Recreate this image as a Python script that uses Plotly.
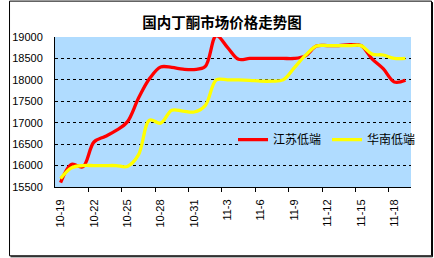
import plotly.graph_objects as go

# ---- data ----
dates = ["10-19", "10-20", "10-21", "10-22", "10-23", "10-24", "10-25", "10-26",
         "10-27", "10-28", "10-29", "10-30", "10-31", "11-1", "11-2", "11-3",
         "11-4", "11-5", "11-6", "11-7", "11-8", "11-9", "11-10", "11-11",
         "11-12", "11-13", "11-14", "11-15", "11-16", "11-17", "11-18", "11-19"]
jiangsu_low = [15600, 16030, 15970, 16550, 16680, 16820, 17020, 17570,
               18030, 18300, 18290, 18250, 18240, 18310, 19030, 18760,
               18480, 18500, 18500, 18500, 18500, 18500, 18560, 18790,
               18800, 18800, 18820, 18800, 18490, 18260, 17950, 17990]
huanan_low = [15700, 15950, 16000, 16000, 16000, 16000, 15980, 16250,
              17060, 16990, 17290, 17270, 17250, 17400, 18000, 18000,
              18000, 17990, 17970, 17970, 18000, 18280, 18570, 18790,
              18800, 18800, 18800, 18800, 18600, 18580, 18500, 18500]
series_names = ["江苏低端", "华南低端"]
title_text = "国内丁酮市场价格走势图"
y_ticks = [15500, 16000, 16500, 17000, 17500, 18000, 18500, 19000]
y_tick_text = [str(v) for v in y_ticks]

idx = list(range(len(dates)))
label_idx = idx[::3]
label_text = [dates[i] for i in label_idx]
boundary_ticks = [i + 2.5 for i in idx[::3] if i + 2.5 < len(dates) - 0.5]

W, H = 434, 258
ML, MR, MT, MB = 47, 23, 36.5, 71
PW, PH = W - ML - MR, H - MT - MB

def px_x(p):
    return (p - ML) / PW

def px_y(p):
    return (H - MB - p) / PH

BG = "#B0DCFF"
CJK = "Noto Sans CJK SC"
LAT = "Liberation Sans"

fig = go.Figure()
fig.add_trace(go.Scatter(x=idx, y=jiangsu_low, name=series_names[0], mode="lines",
                         line=dict(color="#FF0000", width=3.3, shape="spline", smoothing=1)))
fig.add_trace(go.Scatter(x=idx, y=huanan_low, name=series_names[1], mode="lines",
                         line=dict(color="#FFFF00", width=3.3, shape="spline", smoothing=1)))

fig.update_layout(
    width=W, height=H,
    margin=dict(l=ML, r=MR, t=MT, b=MB, pad=0),
    paper_bgcolor="white", plot_bgcolor=BG,
    title=dict(text="<b>" + title_text + "</b>", x=222 / W, xanchor="center",
               y=1 - 22.5 / H, yanchor="middle",
               font=dict(family=CJK, size=14.5, color="black")),
    showlegend=True,
    legend=dict(orientation="h", x=px_x(229), xanchor="left", y=px_y(139.5), yanchor="middle",
                bgcolor="rgba(0,0,0,0)", borderwidth=0,
                font=dict(family=CJK, size=12, color="black"),
                itemwidth=30, tracegroupgap=0, entrywidth=49, entrywidthmode="pixels"),
    xaxis=dict(range=[-0.5, len(dates) - 0.5], tickmode="array", tickvals=label_idx,
               ticktext=label_text, tickangle=-90, ticks="", showgrid=False,
               zeroline=False, showline=True, linecolor="black", linewidth=1,
               tickfont=dict(family=LAT, size=11, color="black"), ticklabelstandoff=7,
               fixedrange=True),
    xaxis2=dict(range=[-0.5, len(dates) - 0.5], overlaying="x", side="bottom", anchor="y",
                tickmode="array", tickvals=boundary_ticks, ticks="outside", ticklen=4,
                tickcolor="black", tickwidth=1, showticklabels=False, showgrid=False,
                zeroline=False, showline=False),
    yaxis=dict(range=[15500, 19000], tickmode="array", tickvals=y_ticks, ticktext=y_tick_text,
               showgrid=True, gridcolor="black", gridwidth=1, griddash="3px,3px",
               zeroline=False, showline=True, linecolor="black", linewidth=1, ticks="",
               tickfont=dict(family=LAT, size=11, color="black"), ticklabelstandoff=9),
)

# dummy trace to activate xaxis2 ticks
fig.add_trace(go.Scatter(x=[None], y=[None], xaxis="x2", showlegend=False, hoverinfo="skip"))

# legend backing box hiding the gridline (legend itself draws on top)
fig.add_shape(type="rect", xref="paper", yref="paper",
              x0=px_x(236.5), x1=px_x(409), y0=px_y(151), y1=px_y(133),
              fillcolor=BG, line=dict(width=0), layer="above")

# chart outer border
fig.add_shape(type="rect", xref="paper", yref="paper",
              x0=px_x(0.5), x1=px_x(432), y0=px_y(256), y1=px_y(0.5),
              line=dict(color="black", width=1), layer="above")
fig.add_shape(type="line", xref="paper", yref="paper",
              x0=px_x(433), x1=px_x(433), y0=px_y(257), y1=px_y(1.5),
              line=dict(color="black", width=1))
fig.add_shape(type="line", xref="paper", yref="paper",
              x0=px_x(1.5), x1=px_x(433), y0=px_y(257), y1=px_y(257),
              line=dict(color="black", width=1))

fig.write_html("out.html")
